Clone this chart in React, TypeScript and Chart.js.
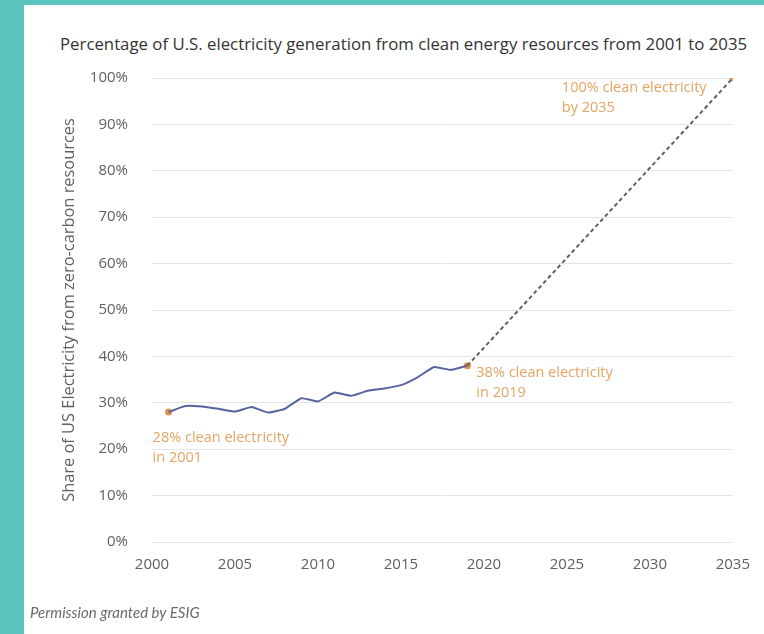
import { useEffect, useRef } from "react";
import { Chart, registerables } from "chart.js";

Chart.register(...registerables);

// Historical share of US electricity from zero-carbon resources
const years = [
  2001, 2002, 2003, 2004, 2005, 2006, 2007, 2008, 2009, 2010,
  2011, 2012, 2013, 2014, 2015, 2016, 2017, 2018, 2019,
];
const cleanShare = [
  28, 29.3, 29.2, 28.7, 28.1, 29.1, 27.9, 28.7, 31.0, 30.3,
  32.2, 31.5, 32.6, 33.1, 33.8, 35.5, 37.7, 37.1, 38,
];

// Path to the 2035 goal
const pathYears = [2019, 2035];
const pathShare = [38, 100];

// Highlighted milestones and their notes
const milestoneYears = [2001, 2019, 2035];
const milestoneShare = [28, 38, 100];
const milestoneNotes = [
  ["28% clean electricity", "in 2001"],
  ["38% clean electricity", "in 2019"],
  ["100% clean electricity", "by 2035"],
];

// Axis ranges and tick steps
const xRange = [2000, 2035];
const xStep = 5;
const yRange = [0, 100];
const yStep = 10;

const TITLE = "Percentage of U.S. electricity generation from clean energy resources from 2001 to 2035";
const Y_TITLE = "Share of US Electricity from zero-carbon resources";
const CREDIT = "Permission granted by ESIG";

const TEAL = "#5bc3bd";
const BLUE = "#55649f";
const DASH = "#606060";
const ORANGE = "#e6a464";
const DOT = "#e0914e";
const TEXT = "#606060";
const FONT = '"Open Sans", "Noto Sans", sans-serif';

// Note placement relative to each milestone point
const noteOffsets = [
  { dx: -16, dy: 26 },
  { dx: 9, dy: 7 },
  { dx: -171, dy: 10 },
];

const milestoneNotesPlugin = {
  id: "milestoneNotes",
  afterDatasetsDraw(chart: any) {
    const { ctx, scales } = chart;
    const x = scales.x;
    const y = scales.y;
    ctx.save();
    ctx.font = `14.5px ${FONT}`;
    ctx.fillStyle = ORANGE;
    ctx.textBaseline = "middle";
    ctx.textAlign = "left";
    milestoneYears.forEach((yr, i) => {
      const px = x.getPixelForValue(yr);
      const py = y.getPixelForValue(milestoneShare[i]);
      const o = noteOffsets[i];
      milestoneNotes[i].forEach((line, j) => {
        ctx.fillText(line, px + o.dx, py + o.dy + j * 20);
      });
    });
    ctx.restore();
  },
};

export default function App() {
  const canvasRef = useRef<HTMLCanvasElement | null>(null);

  useEffect(() => {
    const canvas = canvasRef.current;
    if (!canvas) return;
    const chart = new Chart(canvas, {
      type: "scatter",
      data: {
        datasets: [
          {
            data: years.map((yr, i) => ({ x: yr, y: cleanShare[i] })),
            showLine: true,
            borderColor: BLUE,
            borderWidth: 2,
            pointRadius: 0,
            tension: 0.12,
          },
          {
            data: pathYears.map((yr, i) => ({ x: yr, y: pathShare[i] })),
            showLine: true,
            borderColor: DASH,
            borderWidth: 2,
            borderDash: [4, 3],
            pointRadius: 0,
          },
          {
            data: milestoneYears.map((yr, i) => ({ x: yr, y: milestoneShare[i] })),
            showLine: false,
            pointRadius: 3.5,
            pointBackgroundColor: DOT,
            pointBorderWidth: 0,
          },
        ],
      },
      options: {
        animation: false,
        responsive: false,
        maintainAspectRatio: false,
        layout: { padding: { left: 59, right: 27, top: 78, bottom: 52 } },
        plugins: {
          legend: { display: false },
          tooltip: { enabled: false },
          title: { display: false },
        },
        scales: {
          x: {
            type: "linear",
            min: xRange[0],
            max: xRange[1],
            afterFit: (s: any) => {
              s.height = 40;
            },
            ticks: {
              stepSize: xStep,
              padding: 14,
              color: TEXT,
              font: { family: FONT, size: 15 },
              callback: (v: any) => String(v),
            },
            grid: { display: false, drawTicks: false },
            border: { display: false },
          },
          y: {
            min: yRange[0],
            max: yRange[1],
            afterFit: (s: any) => {
              s.width = 93;
            },
            ticks: {
              stepSize: yStep,
              padding: 24,
              color: TEXT,
              font: { family: FONT, size: 15 },
              callback: (v: any) => `${v}%`,
            },
            grid: { color: "#e4e4e4", lineWidth: 1, drawTicks: false },
            border: { display: false },
            title: {
              display: true,
              text: Y_TITLE,
              color: TEXT,
              padding: 0,
              font: { family: FONT, size: 16.4 },
            },
          },
        },
      },
      plugins: [milestoneNotesPlugin],
    });
    return () => chart.destroy();
  }, []);

  return (
    <div
      style={{
        position: "absolute",
        left: 0,
        top: 0,
        width: 764,
        height: 634,
        background: TEAL,
        overflow: "hidden",
      }}
    >
      <div
        style={{
          position: "absolute",
          left: 24,
          top: 5,
          right: 0,
          bottom: 0,
          background: "#ffffff",
        }}
      />
      <div
        style={{
          position: "absolute",
          left: 60,
          top: 33,
          fontFamily: FONT,
          fontSize: 16.8,
          color: "#333333",
          whiteSpace: "nowrap",
          lineHeight: "22px",
        }}
      >
        {TITLE}
      </div>
      <canvas
        ref={canvasRef}
        width={764}
        height={634}
        style={{ position: "absolute", left: 0, top: 0, width: 764, height: 634 }}
      />
      <div
        style={{
          position: "absolute",
          left: 30,
          top: 602,
          fontFamily: "Lato, sans-serif",
          fontStyle: "italic",
          fontSize: 15,
          color: "#6a6a6a",
          whiteSpace: "nowrap",
          lineHeight: "20px",
        }}
      >
        {CREDIT}
      </div>
    </div>
  );
}
